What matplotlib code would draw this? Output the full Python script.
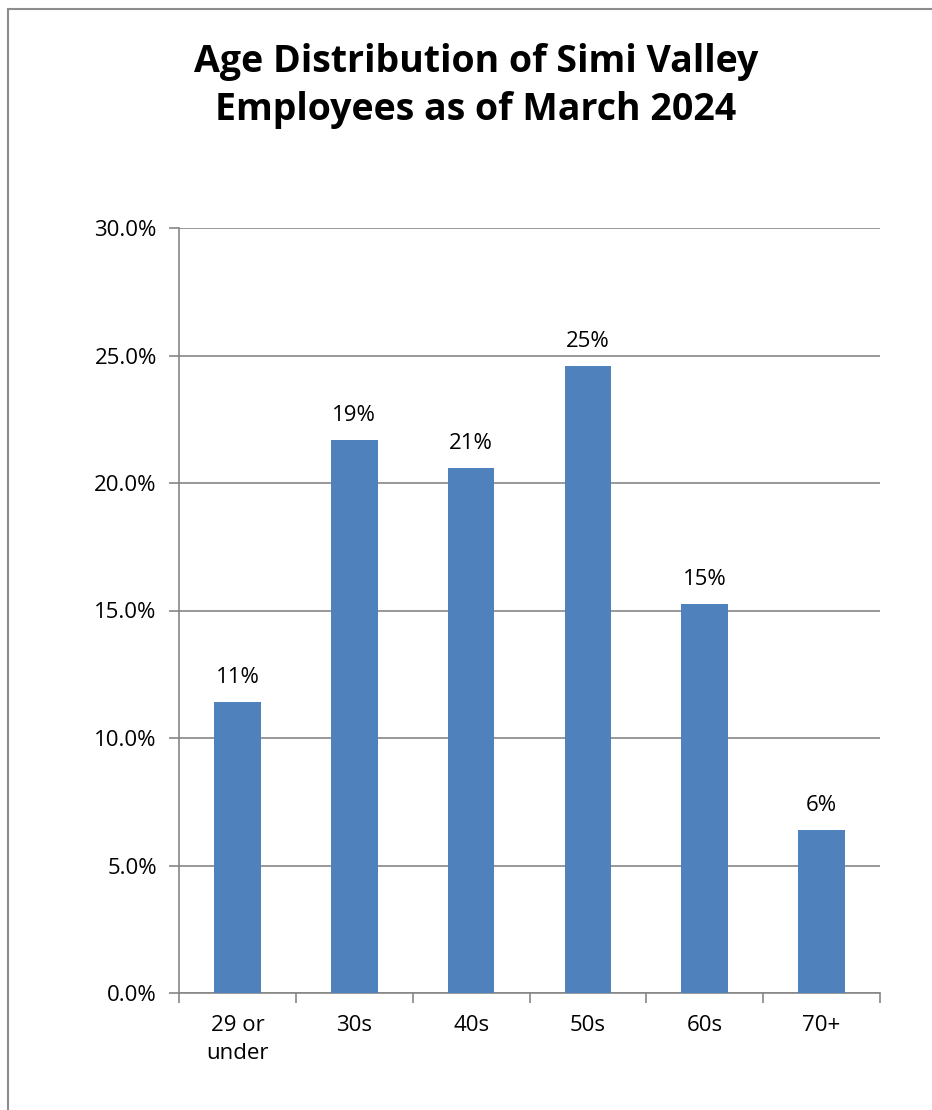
import matplotlib
matplotlib.use("Agg")
import matplotlib.pyplot as plt
from matplotlib.lines import Line2D
import numpy as np

categories = ["29 or\nunder", "30s", "40s", "50s", "60s", "70+"]
values = [11.4, 21.7, 20.6, 24.6, 15.25, 6.4]
value_labels = ["11%", "19%", "21%", "25%", "15%", "6%"]
yticks = [0, 5, 10, 15, 20, 25, 30]
ytick_labels = ["0.0%", "5.0%", "10.0%", "15.0%", "20.0%", "25.0%", "30.0%"]
title = "Age Distribution of Simi Valley\nEmployees as of March 2024"

plt.rcParams['font.family'] = ['Open Sans', 'DejaVu Sans']
W, H = 932, 1110
fig = plt.figure(figsize=(W/100, H/100), dpi=100)

# outer frame (cropped on right/bottom)
fig.add_artist(Line2D([8/W, 8/W], [0, 1 - 9/H], color="#8c8c8c", lw=1.5, transform=fig.transFigure))
fig.add_artist(Line2D([8/W, 1], [1 - 9/H, 1 - 9/H], color="#8c8c8c", lw=1.5, transform=fig.transFigure))

ax = fig.add_axes([179/W, 117/H, 701/W, 765/H])
x = np.arange(len(categories))
ax.bar(x, values, width=0.40, color="#4F81BD", zorder=3)
ax.set_xlim(-0.5, len(categories) - 0.5)
ax.set_ylim(0, 30)
ax.set_yticks(yticks)
ax.set_yticklabels(ytick_labels, fontsize=16)
ax.set_xticks(x)
ax.set_xticklabels(categories, fontsize=16, linespacing=1.45)
ax.tick_params(axis='x', length=0, pad=16)
ax.set_xticks(np.arange(-0.5, len(categories)), minor=True)
ax.tick_params(axis='x', which='minor', length=7, color="#868686", width=1.2)
ax.tick_params(axis='y', length=7, color="#868686", width=1.2, pad=9)
ax.grid(axis='y', color="#868686", lw=1.2, zorder=0)
for s in ['top', 'right']:
    ax.spines[s].set_visible(False)
for s in ['left', 'bottom']:
    ax.spines[s].set_color("#868686")
    ax.spines[s].set_linewidth(1.2)

for xi, v, lab in zip(x, values, value_labels):
    ax.annotate(lab, (xi, v), xytext=(0, 10), textcoords='offset points',
                ha='center', va='bottom', fontsize=16)

fig.text(476/W, 1 - 86/H, title, ha='center', va='center', fontsize=27,
         fontweight='bold', linespacing=1.33)

fig.savefig("out.png", dpi=100)
